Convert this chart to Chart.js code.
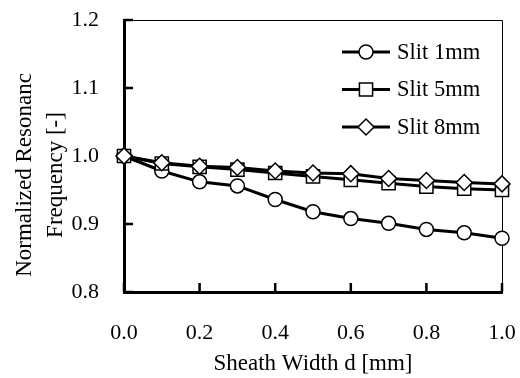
<!DOCTYPE html>
<html>
<head>
<meta charset="utf-8">
<script src="https://cdn.jsdelivr.net/npm/chart.js@4/dist/chart.umd.min.js"></script>
<style>
  html, body { margin: 0; padding: 0; background: #fff; }
  #wrap { width: 520px; height: 378px; }
</style>
</head>
<body>
<div id="wrap"><canvas id="canvas" width="520" height="378"></canvas></div>
<script>
const sheathWidth = [0.0, 0.1, 0.2, 0.3, 0.4, 0.5, 0.6, 0.7, 0.8, 0.9, 1.0];
const slit1mm = [1.000, 0.978, 0.962, 0.956, 0.936, 0.918, 0.908, 0.901, 0.892, 0.887, 0.879];
const slit5mm = [1.000, 0.989, 0.984, 0.980, 0.975, 0.970, 0.965, 0.960, 0.955, 0.952, 0.950];
const slit8mm = [1.000, 0.990, 0.985, 0.983, 0.978, 0.975, 0.974, 0.967, 0.964, 0.961, 0.959];
const seriesLabels = ['Slit 1mm', 'Slit 5mm', 'Slit 8mm'];
const xTicks = [0.0, 0.2, 0.4, 0.6, 0.8, 1.0];
const yTicks = [0.8, 0.9, 1.0, 1.1, 1.2];
const xTitle = 'Sheath Width d [mm]';
const yTitle = ['Normalized Resonanc', 'Frequency [-]'];

const FONT = "'Liberation Serif', 'Times New Roman', serif";

function toPoints(values) {
  return sheathWidth.map((x, i) => ({x: x, y: values[i]}));
}

function drawMarker(ctx, style, x, y, r) {
  ctx.beginPath();
  if (style === 'circle') {
    ctx.arc(x, y, r, 0, Math.PI * 2);
  } else if (style === 'rect') {
    const s = r * Math.SQRT1_2;
    ctx.rect(x - s, y - s, 2 * s, 2 * s);
  } else {
    ctx.moveTo(x, y - r);
    ctx.lineTo(x + r, y);
    ctx.lineTo(x, y + r);
    ctx.lineTo(x - r, y);
    ctx.closePath();
  }
  ctx.fill();
  ctx.stroke();
}

// frame (thin top/right) and inward ticks
const framePlugin = {
  id: 'frame',
  beforeDatasetsDraw(chart) {
    const {ctx, chartArea: a, scales} = chart;
    ctx.save();
    ctx.strokeStyle = '#000';
    ctx.lineWidth = 1;
    ctx.beginPath();
    ctx.moveTo(a.left, a.top + 0.5);
    ctx.lineTo(a.right + 0.5, a.top + 0.5);
    ctx.lineTo(a.right + 0.5, a.bottom);
    ctx.stroke();

    ctx.lineWidth = 2.5;
    ctx.beginPath();
    yTicks.forEach(v => {
      const y = scales.y.getPixelForValue(v);
      ctx.moveTo(a.left, y);
      ctx.lineTo(a.left + 9, y);
    });
    xTicks.forEach(v => {
      const x = scales.x.getPixelForValue(v);
      ctx.moveTo(x, a.bottom);
      ctx.lineTo(x, a.bottom - 9);
    });
    ctx.stroke();
    ctx.restore();
  }
};

const yTitlePlugin = {
  id: 'yTitle',
  afterDraw(chart) {
    const {ctx} = chart;
    ctx.save();
    ctx.fillStyle = '#000';
    ctx.font = '23px ' + FONT;
    ctx.textAlign = 'center';
    ctx.textBaseline = 'middle';
    ctx.translate(0, 175);
    ctx.rotate(-Math.PI / 2);
    ctx.fillText(yTitle[0], 0, 25);
    ctx.fillText(yTitle[1], 0, 56);
    ctx.restore();
  }
};

const legendPlugin = {
  id: 'innerLegend',
  afterDatasetsDraw(chart) {
    const {ctx, chartArea: a} = chart;
    ctx.save();
    chart.data.datasets.forEach((ds, i) => {
      const y = a.top + 32 + i * 37.5;
      const x0 = a.right - 160;
      const x1 = a.right - 112;
      ctx.strokeStyle = '#000';
      ctx.lineWidth = ds.borderWidth;
      ctx.beginPath();
      ctx.moveTo(x0, y);
      ctx.lineTo(x1, y);
      ctx.stroke();
      ctx.fillStyle = '#fff';
      ctx.lineWidth = ds.pointBorderWidth;
      drawMarker(ctx, ds.pointStyle, (x0 + x1) / 2, y, ds.pointRadius);
      ctx.fillStyle = '#000';
      ctx.font = '22.5px ' + FONT;
      ctx.textAlign = 'left';
      ctx.textBaseline = 'middle';
      ctx.fillText(ds.label, a.right - 105, y + 1);
    });
    ctx.restore();
  }
};

function makeDataset(label, values, style, radius, order) {
  return {
    label: label,
    data: toPoints(values),
    borderColor: '#000',
    borderWidth: 3,
    pointStyle: style,
    pointRadius: radius,
    pointBorderWidth: 1.5,
    pointBackgroundColor: '#fff',
    pointBorderColor: '#000',
    tension: 0,
    clip: false,
    order: order,
  };
}

document.addEventListener('DOMContentLoaded', () => {
  const context = document.getElementById('canvas').getContext('2d');

  const config = {
    type: 'line',
    data: {
      datasets: [
        makeDataset(seriesLabels[0], slit1mm, 'circle', 7, 2),
        makeDataset(seriesLabels[1], slit5mm, 'rect', 9.3, 1),
        makeDataset(seriesLabels[2], slit8mm, 'rectRot', 8, 0),
      ],
    },
    options: {
      responsive: false,
      animation: false,
      devicePixelRatio: 1,
      layout: {padding: {left: 0, top: 20, right: 18, bottom: 0}},
      plugins: {
        legend: {display: false},
        tooltip: {enabled: false},
      },
      scales: {
        x: {
          type: 'linear',
          min: 0,
          max: 1,
          afterFit: scale => {
            scale.height = 86;
            scale.paddingLeft = 0;
            scale.paddingRight = 0;
          },
          afterBuildTicks: scale => { scale.ticks = xTicks.map(v => ({value: v})); },
          grid: {display: true, drawOnChartArea: false, drawTicks: false},
          border: {display: true, color: '#000', width: 3},
          ticks: {
            color: '#000',
            padding: 28,
            font: {family: FONT, size: 22},
            callback: v => v.toFixed(1),
          },
          title: {
            display: true,
            text: xTitle,
            color: '#000',
            font: {family: FONT, size: 23},
            padding: {top: 0, bottom: 0},
          },
        },
        y: {
          type: 'linear',
          min: 0.8,
          max: 1.2,
          afterFit: scale => {
            scale.width = 124;
            scale.paddingTop = 0;
            scale.paddingBottom = 0;
          },
          afterBuildTicks: scale => { scale.ticks = yTicks.map(v => ({value: v})); },
          grid: {display: true, drawOnChartArea: false, drawTicks: false},
          border: {display: true, color: '#000', width: 3},
          ticks: {
            color: '#000',
            padding: 25,
            font: {family: FONT, size: 22},
            callback: v => v.toFixed(1),
          },
        },
      },
    },
    plugins: [framePlugin, legendPlugin, yTitlePlugin],
  };

  new Chart(context, config);
});
</script>
</body>
</html>
